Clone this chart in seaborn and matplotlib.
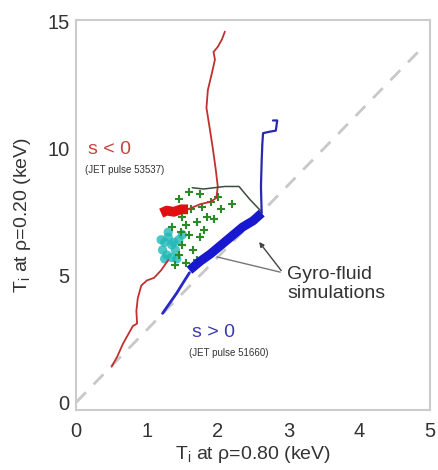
import numpy as np
import pandas as pd
import matplotlib
matplotlib.use("Agg")
import matplotlib.pyplot as plt
import seaborn as sns

# ---- data ----
red_low_x = [0.50, 0.58, 0.66, 0.74, 0.80, 0.86, 0.85, 0.87, 0.92, 1.00, 1.10, 1.20, 1.30]
red_low_y = [1.40, 1.80, 2.30, 2.70, 3.00, 3.10, 3.60, 4.10, 4.60, 4.80, 4.90, 5.20, 5.60]
red_blob_x = [1.20, 1.28, 1.38, 1.48, 1.58]
red_blob_y = [7.45, 7.55, 7.50, 7.60, 7.60]
red_up_x = [1.58, 1.75, 1.90, 1.98, 2.00, 1.97, 1.93, 1.88, 1.84, 1.86, 1.92, 1.96, 1.94, 2.00, 2.06, 2.10]
red_up_y = [7.60, 7.80, 7.90, 8.05, 8.50, 9.20, 10.0, 10.9, 11.6, 12.3, 13.0, 13.5, 13.8, 14.0, 14.3, 14.6]

blue_low_x = [1.22, 1.32, 1.42, 1.52, 1.60]
blue_low_y = [3.50, 3.90, 4.30, 4.75, 5.10]
blue_band_x = [1.60, 1.75, 1.90, 2.05, 2.20, 2.35, 2.50, 2.62]
blue_band_y = [5.20, 5.55, 5.85, 6.20, 6.55, 6.90, 7.15, 7.45]
blue_up_x = [2.62, 2.61, 2.62, 2.63, 2.64, 2.72, 2.82, 2.84, 2.78]
blue_up_y = [7.45, 8.50, 9.50, 10.20, 10.60, 10.65, 10.70, 11.10, 11.10]

outline_x = [1.64, 1.80, 1.95, 2.10, 2.30, 2.45, 2.62]
outline_y = [8.45, 8.40, 8.45, 8.50, 8.50, 8.00, 7.50]

green_x = [1.45, 1.60, 1.75, 1.90, 2.00, 1.55, 1.70, 1.85, 1.60, 1.75, 1.50, 1.65, 1.45,
           1.55, 1.70, 1.40, 1.80, 2.05, 2.20, 1.35, 1.50, 1.62, 1.78, 1.95, 1.48]
green_y = [8.00, 8.30, 8.20, 7.90, 8.10, 7.00, 7.10, 7.30, 6.60, 6.50, 6.20, 6.00, 5.80,
           5.50, 5.60, 5.40, 6.80, 7.60, 7.80, 6.90, 7.30, 7.60, 7.70, 7.20, 6.70]

cyan_x = [1.22, 1.25, 1.30, 1.35, 1.28, 1.40, 1.45, 1.35, 1.50, 1.20, 1.30, 1.42, 1.25, 1.38]
cyan_y = [6.00, 6.30, 6.50, 6.20, 5.80, 6.00, 6.40, 5.70, 6.60, 6.40, 6.70, 5.65, 5.65, 6.30]

diag_x = [0.0, 4.9]
diag_y = [0.0, 14.0]

xticks = [0, 1, 2, 3, 4, 5]
yticks = [0, 5, 10, 15]

# ---- figure ----
sns.set_style("white")
plt.rcParams['font.family'] = ['Liberation Sans', 'DejaVu Sans']

fig = plt.figure(figsize=(4.38, 4.70), dpi=100)
ax = fig.add_axes([0.174, 0.128, 0.808, 0.829])


def line(x, y, **kw):
    sns.lineplot(x=x, y=y, ax=ax, sort=False, estimator=None, errorbar=None, **kw)


line(diag_x, diag_y, color="#c8c8c8", lw=2, linestyle=(0, (5, 4)))

line(red_low_x, red_low_y, color="#c03030", lw=1.3)
line(red_up_x, red_up_y, color="#c03030", lw=1.3)
line(red_blob_x, red_blob_y, color="#e01010", lw=7, solid_capstyle="butt")

line(outline_x, outline_y, color="#3c4c40", lw=1.1)

sns.scatterplot(x=cyan_x, y=cyan_y, ax=ax, color="#20b8b8", s=45, edgecolor="none", alpha=0.8)
sns.scatterplot(x=green_x, y=green_y, ax=ax, color="#2a8a2a", marker="+", s=30, linewidth=1.5)

line(blue_low_x, blue_low_y, color="#2828c8", lw=2)
line(blue_band_x, blue_band_y, color="#1818d0", lw=6.5, solid_capstyle="butt")
line(blue_up_x, blue_up_y, color="#2828b0", lw=1.6)

ax.set_xlim(0, 5)
ax.set_ylim(-0.3, 15.05)
ax.set_xticks(xticks)
ax.set_yticks(yticks)
ax.tick_params(labelsize=14.5, colors="#333333", length=0)
ax.tick_params(axis="x", pad=9)
ax.tick_params(axis="y", pad=5)
for sp in ax.spines.values():
    sp.set_color("#cccccc")
    sp.set_linewidth(1.5)

ax.set_xlabel(r"T$_\mathregular{i}$ at ρ=0.80 (keV)", fontsize=14, color="#333333", labelpad=2)
ax.set_ylabel(r"T$_\mathregular{i}$ at ρ=0.20 (keV)", fontsize=14, color="#333333", labelpad=10)

ax.text(0.16, 9.95, "s < 0", color="#c84040", fontsize=14, va="center")
ax.text(0.12, 9.15, "(JET pulse 53537)", color="#333333", fontsize=7, va="center")
ax.text(1.63, 2.75, "s > 0", color="#3a3ab0", fontsize=14, va="center")
ax.text(1.60, 1.95, "(JET pulse 51660)", color="#333333", fontsize=7, va="center")

ax.text(2.98, 4.65, "Gyro-fluid\nsimulations", color="#333333", fontsize=14,
        va="center", ha="left", linespacing=1.2)
ax.annotate("", xy=(2.56, 6.4), xytext=(2.92, 5.1),
            arrowprops=dict(arrowstyle="-|>", color="#444444", lw=1, mutation_scale=7))
ax.annotate("", xy=(1.95, 5.75), xytext=(2.92, 5.1),
            arrowprops=dict(arrowstyle="-", color="#777777", lw=1))

fig.savefig("out.png", dpi=100)
